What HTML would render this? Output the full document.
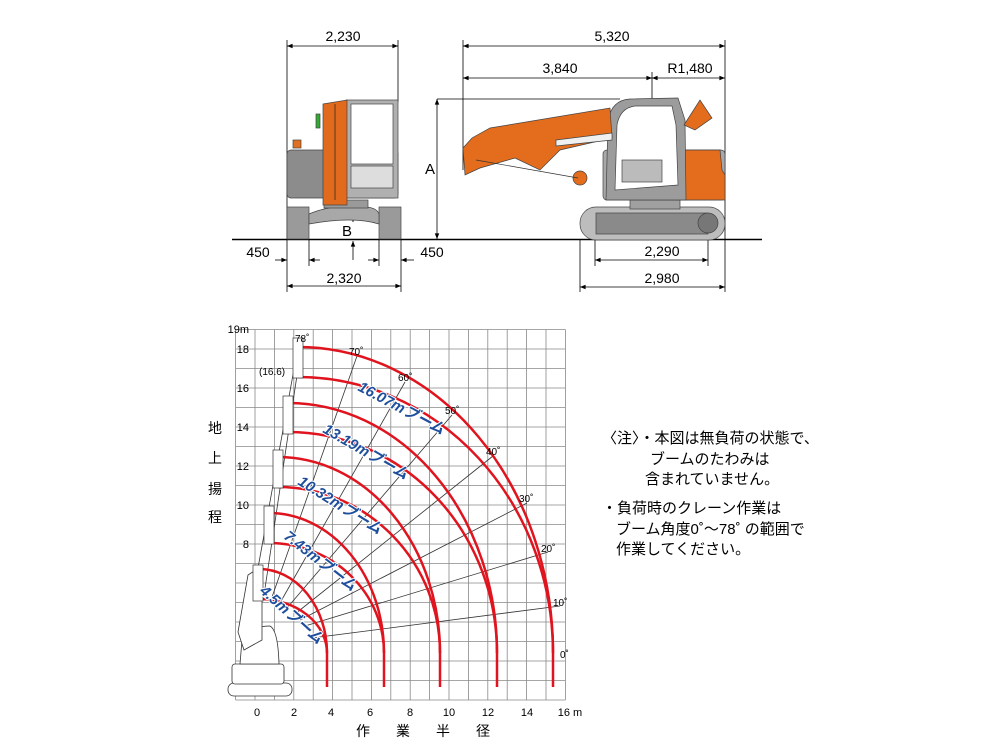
<!DOCTYPE html>
<html><head><meta charset="utf-8"><style>
body{margin:0;background:#fff;}
svg{display:block;font-family:"Liberation Sans","Noto Sans CJK JP",sans-serif;}
</style></head><body>
<svg width="1000" height="750" viewBox="0 0 1000 750" xmlns="http://www.w3.org/2000/svg">
<defs>
<marker id="ar" viewBox="0 0 10 10" refX="10" refY="5" markerWidth="9" markerHeight="7" orient="auto-start-reverse"><path d="M0,1 L10,5 L0,9 z" fill="#000"/></marker>
</defs>
<g stroke="#000" stroke-width="0.8" fill="none">
<line x1="287" y1="40" x2="287" y2="292"/><line x1="398" y1="40" x2="398" y2="102"/>
<line x1="463" y1="40" x2="463" y2="170"/><line x1="725" y1="40" x2="725" y2="292"/>
<line x1="652" y1="72" x2="652" y2="239"/>
<line x1="287" y1="46" x2="398" y2="46" marker-start="url(#ar)" marker-end="url(#ar)"/>
<line x1="463" y1="46" x2="725" y2="46" marker-start="url(#ar)" marker-end="url(#ar)"/>
<line x1="463" y1="78" x2="652" y2="78" marker-start="url(#ar)" marker-end="url(#ar)"/>
<line x1="652" y1="78" x2="725" y2="78" marker-start="url(#ar)" marker-end="url(#ar)"/>
<line x1="437" y1="99" x2="620" y2="99"/>
<line x1="437" y1="99" x2="437" y2="239" marker-start="url(#ar)" marker-end="url(#ar)"/>
<line x1="309" y1="239" x2="309" y2="266"/><line x1="379" y1="239" x2="379" y2="266"/>
<line x1="401" y1="239" x2="401" y2="292"/>
<line x1="580" y1="239" x2="580" y2="292"/><line x1="595" y1="239" x2="595" y2="266"/><line x1="708" y1="239" x2="708" y2="266"/>
<line x1="275" y1="260" x2="287" y2="260" marker-end="url(#ar)"/>
<line x1="320" y1="260" x2="309" y2="260" marker-end="url(#ar)"/>
<line x1="368" y1="260" x2="379" y2="260" marker-end="url(#ar)"/>
<line x1="414" y1="260" x2="401" y2="260" marker-end="url(#ar)"/>
<line x1="287" y1="286" x2="401" y2="286" marker-start="url(#ar)" marker-end="url(#ar)"/>
<line x1="595" y1="260" x2="708" y2="260" marker-start="url(#ar)" marker-end="url(#ar)"/>
<line x1="580" y1="287" x2="725" y2="287" marker-start="url(#ar)" marker-end="url(#ar)"/>
<line x1="353" y1="208" x2="353" y2="222" marker-end="url(#ar)"/>
<line x1="353" y1="260" x2="353" y2="241" marker-end="url(#ar)"/>
</g>
<line x1="232" y1="239.5" x2="762" y2="239.5" stroke="#000" stroke-width="1.5"/>
<g font-size="14" text-anchor="middle" fill="#000">
<text x="343" y="41">2,230</text><text x="612" y="41">5,320</text>
<text x="560" y="73">3,840</text><text x="690" y="73">R1,480</text>
<text x="430" y="174" font-size="15">A</text><text x="347" y="236" font-size="15">B</text>
<text x="258" y="257">450</text><text x="432" y="257">450</text>
<text x="344" y="283">2,320</text><text x="662" y="256">2,290</text><text x="662" y="283">2,980</text>
</g>
<g stroke="#444" stroke-width="0.7">
<rect x="287" y="207" width="22" height="32" fill="#9a9a9a"/>
<rect x="379" y="207" width="22" height="32" fill="#9a9a9a"/>
<path d="M309,214 Q330,205 353,207 Q376,205 379,214 L379,224 Q353,216 309,224 Z" fill="#a8a8a8"/>
<rect x="324" y="200" width="44" height="8" fill="#9a9a9a"/>
<rect x="287" y="150" width="111" height="48" rx="4" fill="#8c8c8c"/>
<rect x="293" y="140" width="8" height="8" fill="#e07020"/>
<rect x="346" y="100" width="52" height="98" fill="#b0b0b0"/>
<rect x="351" y="104" width="42" height="60" fill="#fff"/>
<rect x="351" y="166" width="42" height="22" fill="#ddd"/>
<path d="M323,104 L347,100 L347,205 L323,205 Z" fill="#e26a1c"/>
<line x1="335" y1="104" x2="335" y2="200" stroke="#222"/>
<rect x="316" y="114" width="4" height="14" fill="#3a3"/>
</g>
<g stroke="#444" stroke-width="0.7">
<rect x="580" y="207" width="145" height="33" rx="16" fill="#bdbdbd"/>
<rect x="596" y="213" width="112" height="21" fill="#8a8a8a"/>
<circle cx="708" cy="223" r="10" fill="#777"/>
<rect x="630" y="199" width="50" height="10" fill="#a0a0a0"/>
<rect x="603" y="150" width="122" height="50" rx="4" fill="#a8a8a8"/>
<path d="M676,150 L720,150 L722,170 L725,175 L725,200 L676,200 Z" fill="#e36c1d"/>
<path d="M606,200 L608,120 Q612,100 630,99 L678,98 L685,120 L686,200 Z" fill="#9c9c9c"/>
<path d="M615,190 L617,125 Q620,108 635,106 L672,106 L676,125 L678,185 Z" fill="#fff"/>
<path d="M463,148 L472,138 L490,128 L610,108 L612,138 L560,150 L540,170 L515,158 L480,168 L465,175 Z" fill="#e36c1d"/>
<path d="M556,140 L612,133 L612,140 L556,146 Z" fill="#f0f0f0"/>
<path d="M684,125 L700,100 L712,118 L695,130 Z" fill="#e36c1d"/>
<circle cx="580" cy="178" r="7" fill="#e36c1d"/>
<line x1="476" y1="160" x2="578" y2="178" stroke="#333"/>
<rect x="622" y="160" width="40" height="22" fill="#bbb"/>
</g>
<g stroke="#888" stroke-width="0.8">
<line x1="235.6" y1="329.5" x2="235.6" y2="700"/><line x1="255" y1="329.5" x2="255" y2="700"/><line x1="274.4" y1="329.5" x2="274.4" y2="700"/><line x1="293.8" y1="329.5" x2="293.8" y2="700"/><line x1="313.2" y1="329.5" x2="313.2" y2="700"/><line x1="332.6" y1="329.5" x2="332.6" y2="700"/><line x1="352" y1="329.5" x2="352" y2="700"/><line x1="371.4" y1="329.5" x2="371.4" y2="700"/><line x1="390.8" y1="329.5" x2="390.8" y2="700"/><line x1="410.2" y1="329.5" x2="410.2" y2="700"/><line x1="429.6" y1="329.5" x2="429.6" y2="700"/><line x1="449" y1="329.5" x2="449" y2="700"/><line x1="468.4" y1="329.5" x2="468.4" y2="700"/><line x1="487.8" y1="329.5" x2="487.8" y2="700"/><line x1="507.2" y1="329.5" x2="507.2" y2="700"/><line x1="526.6" y1="329.5" x2="526.6" y2="700"/><line x1="546" y1="329.5" x2="546" y2="700"/><line x1="565.4" y1="329.5" x2="565.4" y2="700"/>
<line x1="235.6" y1="329.5" x2="565.4" y2="329.5"/><line x1="235.6" y1="349" x2="565.4" y2="349"/><line x1="235.6" y1="368.5" x2="565.4" y2="368.5"/><line x1="235.6" y1="388" x2="565.4" y2="388"/><line x1="235.6" y1="407.5" x2="565.4" y2="407.5"/><line x1="235.6" y1="427" x2="565.4" y2="427"/><line x1="235.6" y1="446.5" x2="565.4" y2="446.5"/><line x1="235.6" y1="466" x2="565.4" y2="466"/><line x1="235.6" y1="485.5" x2="565.4" y2="485.5"/><line x1="235.6" y1="505" x2="565.4" y2="505"/><line x1="235.6" y1="524.5" x2="565.4" y2="524.5"/><line x1="235.6" y1="544" x2="565.4" y2="544"/><line x1="235.6" y1="563.5" x2="565.4" y2="563.5"/><line x1="235.6" y1="583" x2="565.4" y2="583"/><line x1="235.6" y1="602.5" x2="565.4" y2="602.5"/><line x1="235.6" y1="622" x2="565.4" y2="622"/><line x1="235.6" y1="641.5" x2="565.4" y2="641.5"/><line x1="235.6" y1="661" x2="565.4" y2="661"/><line x1="235.6" y1="680.5" x2="565.4" y2="680.5"/><line x1="235.6" y1="700" x2="565.4" y2="700"/>
</g>
<g stroke="#333" stroke-width="0.8" fill="#fff">
<rect x="228" y="683" width="64" height="13" rx="6"/>
<rect x="232" y="664" width="52" height="20" rx="3"/>
<path d="M240,664 L242,640 Q250,626 270,626 Q278,630 279,664 Z"/>
<path d="M244,650 L238,632 L248,575 L262,566 L262,640 Z"/>
</g>
<g stroke="#333" stroke-width="0.8">
<line x1="264" y1="595" x2="302" y2="342"/>
<line x1="272" y1="597" x2="357" y2="356"/>
<line x1="280" y1="603" x2="405" y2="382"/>
<line x1="287" y1="608" x2="452" y2="415"/>
<line x1="295" y1="614" x2="493" y2="456"/>
<line x1="300" y1="620" x2="527" y2="503"/>
<line x1="305" y1="626" x2="548" y2="552"/>
<line x1="312" y1="638" x2="560" y2="606"/>
<line x1="258" y1="568" x2="298" y2="347"/>
</g>
<g stroke="#e0141e" stroke-width="2.5" fill="none">
<path d="M298,347 A255,306 0 0 1 553,653"/><path d="M298,377 A255,276 0 0 1 553,653"/><line x1="553" y1="653" x2="553" y2="687"/>
<path d="M288,403 A209,250 0 0 1 497,653"/><path d="M288,432 A209,221 0 0 1 497,653"/><line x1="497" y1="653" x2="497" y2="687"/>
<path d="M278,457 A162,196 0 0 1 440,653"/><path d="M278,487 A162,166 0 0 1 440,653"/><line x1="440" y1="653" x2="440" y2="687"/>
<path d="M269,513 A115,140 0 0 1 384,653"/><path d="M269,543 A115,110 0 0 1 384,653"/><line x1="384" y1="653" x2="384" y2="687"/>
<path d="M259,569 A68,84 0 0 1 327,653"/><path d="M259,599 A68,54 0 0 1 327,653"/><line x1="327" y1="653" x2="327" y2="687"/>
</g>
<g fill="#fff" stroke="#333" stroke-width="0.7">
<rect x="293" y="338" width="10" height="40"/><rect x="283" y="396" width="10" height="38"/><rect x="273" y="450" width="10" height="38"/><rect x="264" y="506" width="10" height="38"/><rect x="253" y="565" width="10" height="36"/>
</g>
<g fill="#1f4f9c" font-size="15" font-weight="bold" font-style="italic" stroke="#fff" stroke-width="2" paint-order="stroke" stroke-linejoin="round">
<text transform="translate(357,390) rotate(28)">16.07mブーム</text>
<text transform="translate(322,432) rotate(30)">13.19mブーム</text>
<text transform="translate(297,484) rotate(32)">10.32mブーム</text>
<text transform="translate(283,538) rotate(38)">7.43mブーム</text>
<text transform="translate(259,592) rotate(42)">4.5mブーム</text>
</g>
<g font-size="10" fill="#000">
<text x="295" y="342">78˚</text><text x="349" y="355">70˚</text><text x="398" y="381">60˚</text><text x="445" y="414">50˚</text><text x="486" y="455">40˚</text><text x="519" y="502">30˚</text><text x="541" y="552">20˚</text><text x="553" y="606">10˚</text><text x="560" y="658">0˚</text>
<text x="259" y="375">(16.6)</text>
</g>
<g font-size="11" fill="#000" text-anchor="end">
<text x="249" y="333">19m</text><text x="249" y="353">18</text><text x="249" y="392">16</text><text x="249" y="431">14</text><text x="249" y="470">12</text><text x="249" y="509">10</text><text x="249" y="548">8</text>
</g>
<g font-size="11" fill="#000" text-anchor="middle">
<text x="257" y="716">0</text><text x="294" y="716">2</text><text x="331" y="716">4</text><text x="370" y="716">6</text><text x="410" y="716">8</text><text x="449" y="716">10</text><text x="488" y="716">12</text><text x="527" y="716">14</text><text x="570" y="716">16 m</text>
</g>
<g font-size="14" fill="#000" text-anchor="middle">
<text x="215" y="433">地</text><text x="215" y="463">上</text><text x="215" y="494">揚</text><text x="215" y="522">程</text>
<text x="363" y="736">作</text><text x="403" y="736">業</text><text x="443" y="736">半</text><text x="483" y="736">径</text>
</g>
<g font-size="15" fill="#000">
<text x="602" y="443">〈注〉・本図は無負荷の状態で、</text>
<text x="650" y="464">ブームのたわみは</text>
<text x="645" y="484">含まれていません。</text>
<text x="602" y="513">・負荷時のクレーン作業は</text>
<text x="616" y="534">ブーム角度0˚〜78˚ の範囲で</text>
<text x="616" y="554">作業してください。</text>
</g>
</svg>
</body></html>
